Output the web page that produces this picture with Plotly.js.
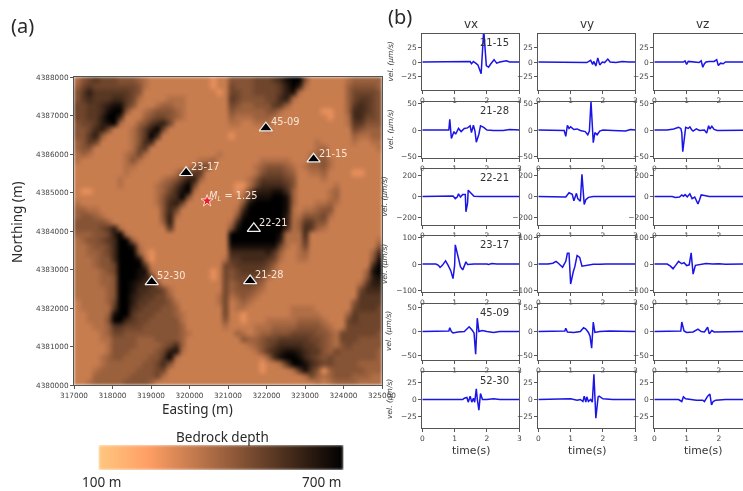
<!DOCTYPE html>
<html><head><meta charset="utf-8">
<script src="https://cdn.plot.ly/plotly-3.0.1.min.js"></script>
<style>html,body{margin:0;padding:0;background:#fff;overflow:hidden}#c{width:743px;height:491px;filter:blur(0.35px)}.heatmaplayer image,.hm image{filter:blur(1.6px)}</style>
</head><body><div id="c"></div>
<script>
// Bedrock depth, 160 m cells, north row first. a = light spot, 0 = plateau, 9 = deepest
const depthRowsNorth = [
"1345444333 2100000000 00a00 3333444568 9930000001 22222",
"2454444444 3100000000 00a00 4333444457 9710000002 33332",
"3575555554 3000000000 000a0 4433444457 8100000002 44443",
"3565556654 1000011100 00000 5433334467 1000000002 45543",
"4455678853 0001221100 00000 4322333552 0000000002 56543",
"4455689930 0123332100 00000 3222223310 00000aa002 66543",
"4455799600 0234432100 00000 2111222100 000000a001 66443",
"3445789100 2356740000 00000 1100111000 0000000001 55333",
"3346740001 3579400000 00000 0000001000 0000000000 43222",
"3357200001 3596000000 00000 a000000000 0000000000 21122",
"2354000001 3660000000 00000 0000000000 0000100000 10011",
"2330000001 4500000000 00000 0000000000 0000120000 00001",
"1210000012 4100000000 00010 0000000000 0001220000 00000",
"1000000013 1000000000 11200 0000011111 0002231000 00000",
"0000000011 0000000002 34000 0000123332 1012231000 00000",
"0000000010 0000001345 50000 0000134443 2001120000 aa000",
"0000000100 0000123577 20000 0001355554 3000010000 00000",
"0000000100 0001235794 00000 0aa1466665 3000000100 00000",
"0aa0000000 0001246891 00000 0a04777886 2000001200 00000",
"0000000000 0001356930 00000 0015888998 2000001200 00000",
"1000000000 0001367400 00000 0038999998 2000112100 00000",
"2211000000 0000364000 00000 0169999998 1011233000 00000",
"2332100000 0000371000 00000 0389999997 1133341000 00000",
"3333320000 0000270000 00000 1699999997 1255330000 00000",
"3333457100 0000050000 00000 3899999996 1265210000 00000"
];
const depthRowsSouth = [
"2223347910 0000000000 00000 9999999981 1160000000 00000",
"1233456992 0000000000 00000 9999999971 1150000000 00001",
"1123346998 1000000000 00000 8888888841 0140000000 00003",
"1122346999 20a0000000 00000 6666667520 0120000000 00026",
"1112336999 81a0000000 00001 5566665410 0110000000 00038",
"1112334999 9500000000 00004 4555554200 0000000000 00069",
"1111234999 8810000000 00a04 3455543100 0000000000 00289",
"1111223999 8750000000 00a04 3444431000 0000000000 00378",
"1111223998 7663000000 00004 2344320000 0000000000 01577",
"1111123998 6655410000 00004 2333210000 0000000000 04666",
"1111123997 6554420000 00014 1232100000 0000000000 05555",
"0111124997 5544431000 00014 0121000000 0000000000 35555",
"0111115996 5444332000 00004 0110000000 1111000000 45554",
"0011128995 4443332100 00004 00a0000000 1111100002 54444",
"0011139965 4433333100 00003 00a0001111 1222210004 54444",
"0001125544 4333333200 00001 0000111222 2333321004 44444",
"0000124433 3333333210 00000 0210122333 4444332144 44443",
"0000113333 2223333200 00000 0032234455 5554432144 43333",
"0000013333 2222346200 00000 0001234566 6655432134 33333",
"0000013332 2223478100 00000 0000135678 8765532433 33332",
"0000123322 2233591000 00000 0000002689 9865434333 33332",
"0000122222 2334630000 00000 00000a0015 9986544333 32222",
"0001222222 3334400000 00000 00000a0000 15853a2333 33222",
"0002222223 3334100000 00000 0000000000 0014212333 22211",
"0012222233 3320000000 00000 0000000000 0000101222 21111"
];
const levelDepth = {a:262,0:324,1:366,2:408,3:450,4:492,5:534,6:576,7:618,8:660,9:702};
const colorbarDepth = [100,200,300,400,500,600,700];
const coppers = [[0,'rgb(255,199,127)'],[0.2,'rgb(255,159,101)'],[1,'rgb(0,0,0)']];

const stations = ['21-15','21-28','22-21','23-17','45-09','52-30'];
const stationE = [323222,321575,321671,319912,321983,319019];
const stationN = [4385870,4382706,4384064,4385517,4386676,4382680];
const eventE = [320457], eventN = [4384782];

// [time s, velocity um/s]
const vx2115=[[0,0],[1.4,0],[1.48,1],[1.52,-3],[1.58,1],[1.65,-2],[1.72,-5],[1.82,-20],[1.9,55],[1.98,-6],[2.05,-9],[2.12,-3],[2.22,4],[2.3,-2],[2.4,0],[2.6,2],[2.7,0],[3,0]];
const vy2115=[[0,0],[1.4,0],[1.5,-1],[1.62,3],[1.68,-4],[1.72,1],[1.78,-7],[1.84,7],[1.9,-5],[1.98,0],[2.05,-1],[2.15,5],[2.22,0],[2.4,-1],[2.6,1],[2.8,0],[3,0]];
const vz2115=[[0,0],[0.9,0],[0.95,2],[1,-4],[1.05,1],[1.2,0],[1.38,-1],[1.45,2],[1.5,-9],[1.55,-3],[1.6,0],[1.7,1],[1.85,1],[1.93,4],[1.98,-6],[2.05,-2],[2.13,-3],[2.2,0],[2.5,0],[3,0]];
const vx2128=[[0,0],[0.75,0],[0.82,0],[0.85,20],[0.88,5],[0.9,-16],[0.98,-3],[1.03,-8],[1.12,3],[1.2,-3],[1.3,3],[1.4,4],[1.48,8],[1.52,-5],[1.58,9],[1.63,-2],[1.67,-23],[1.75,-8],[1.8,8],[1.9,5],[2,0],[2.2,-1],[2.5,-1],[2.7,1],[3,0]];
const vy2128=[[0,0],[0.7,0],[0.8,-1],[0.85,-12],[0.9,9],[0.95,3],[1,6],[1.1,1],[1.2,2],[1.3,-1],[1.45,-3],[1.53,-9],[1.58,-2],[1.63,54],[1.7,-24],[1.75,-5],[1.82,-9],[1.9,-2],[2,0],[2.3,-1],[2.55,-1],[2.7,-2],[2.85,1],[3,0]];
const vz2128=[[0,0],[0.4,0],[0.6,2],[0.75,5],[0.82,3],[0.85,-5],[0.88,-41],[0.92,-15],[0.97,5],[1.05,3],[1.1,6],[1.15,1],[1.2,-2],[1.3,2],[1.4,-1],[1.55,0],[1.62,-6],[1.68,8],[1.72,2],[1.78,7],[1.85,1],[1.95,-1],[2.2,-1],[2.7,0],[3,0]];
const vx2221=[[0,0],[0.75,0],[0.9,0],[0.95,5],[1.02,-20],[1.08,-5],[1.12,25],[1.18,-5],[1.25,20],[1.33,20],[1.35,-145],[1.4,-60],[1.42,60],[1.5,30],[1.6,3],[1.8,0],[3,0]];
const vy2221=[[0,0],[0.55,0],[0.7,-5],[0.85,-5],[0.95,35],[1.05,20],[1.1,-40],[1.18,30],[1.22,-20],[1.3,-45],[1.35,210],[1.42,-75],[1.47,-30],[1.55,-8],[1.7,0],[3,0]];
const vz2221=[[0,0],[0.55,0],[0.65,-10],[0.78,-5],[0.85,15],[0.9,3],[0.95,18],[1.02,-3],[1.1,25],[1.17,-20],[1.25,-5],[1.35,-70],[1.4,-30],[1.45,15],[1.55,10],[1.7,0],[3,0]];
const vx2317=[[0,0],[0.3,0],[0.42,0],[0.5,-5],[0.55,-13],[0.62,-5],[0.72,12],[0.8,-5],[0.88,-25],[0.95,-55],[1,-5],[1.02,72],[1.1,35],[1.18,-10],[1.25,-22],[1.3,-10],[1.35,8],[1.4,-2],[1.6,0],[2,0],[2.05,-2],[2.15,2],[2.3,0],[3,0]];
const vy2317=[[0,0],[0.3,0],[0.45,3],[0.55,10],[0.62,3],[0.75,-12],[0.85,10],[0.9,40],[0.95,40],[1,-75],[1.08,-30],[1.13,-10],[1.2,32],[1.28,25],[1.35,-8],[1.45,-6],[1.7,-1],[1.9,-1],[2.1,0],[3,0]];
const vz2317=[[0,0],[0.4,0],[0.5,-8],[0.58,-18],[0.66,-5],[0.75,10],[0.85,1],[0.92,5],[1,-6],[1.08,-3],[1.14,42],[1.2,-38],[1.27,-5],[1.4,-2],[1.6,2],[1.8,0],[2,1],[2.2,-1],[3,0]];
const vx4509=[[0,0],[0.75,0],[0.82,1],[0.85,8],[0.9,0],[0.95,-3],[1.1,-1],[1.3,0],[1.4,8],[1.45,10],[1.55,2],[1.6,-3],[1.65,-48],[1.7,28],[1.75,0],[1.85,2],[2,0],[2.2,-2],[2.4,0],[3,0]];
const vy4509=[[0,0],[0.75,0],[0.82,1],[0.85,7],[0.9,-1],[1.1,-2],[1.3,0],[1.4,8],[1.47,5],[1.55,-2],[1.6,-10],[1.65,-35],[1.7,20],[1.75,-2],[1.9,0],[2.2,1],[3,0]];
const vz4509=[[0,0],[0.75,0],[0.82,1],[0.85,20],[0.92,1],[1,-2],[1.2,-1],[1.35,5],[1.45,0],[1.55,-1],[1.65,9],[1.7,-5],[1.78,2],[1.85,-1],[2.2,-1],[3,0]];
const vx5230=[[0,0],[0.8,0],[0.9,1],[0.95,0],[1.25,0],[1.3,2],[1.38,3],[1.42,-4],[1.48,5],[1.53,-4],[1.58,2],[1.62,-4],[1.67,16],[1.7,1],[1.75,-16],[1.8,9],[1.86,0],[2,0],[2.2,1],[2.4,0],[3,0]];
const vy5230=[[0,0],[0.8,0],[1,1],[1.2,-1],[1.3,0],[1.38,-3],[1.42,5],[1.47,-4],[1.5,4],[1.55,-3],[1.62,0],[1.67,-4],[1.72,38],[1.78,-28],[1.85,4],[1.88,5],[2,1],[2.3,0],[3,0]];
const vz5230=[[0,0],[0.75,0],[0.85,-3],[0.9,4],[0.97,1],[1.1,0],[1.3,-1],[1.5,-1],[1.55,-3],[1.65,5],[1.72,8],[1.77,-8],[1.82,-3],[1.9,-1],[2.2,0],[3,0]];
const seismograms = [
 [vx2115,vy2115,vz2115],[vx2128,vy2128,vz2128],[vx2221,vy2221,vz2221],
 [vx2317,vy2317,vz2317],[vx4509,vy4509,vz4509],[vx5230,vy5230,vz5230]];
const rowLimits = [48,53,265,105,59,42];
const rowTicks = [[-25,0,25],[-50,0,50],[-200,0,200],[-100,0,100],[-50,0,50],[-25,0,25]];
const components = ['vx','vy','vz'];

const W=743,H=491;
const px=x=>x/W, py=y=>1-y/H;
const colL=[422.3,538.3,654.3], colW=97;
const rowT=[34,102,168.5,236,303.5,371.5], rowH=56;
const mapBox={l:74,r:382,t:77,b:385};
const barBox={l:98.5,r:343.5,t:445,b:470};
const inkM='#3a3a3a', spine='#555555', titleFont='Noto Sans, sans-serif', axisFont='DejaVu Sans, sans-serif';

const z=depthRowsNorth.concat(depthRowsSouth).map(r=>r.replace(/ /g,'').split('').map(c=>levelDepth[c])).reverse();
const traces=[];
traces.push({type:'heatmap',z:z,x0:317080,dx:160,y0:4380080,dy:160,colorscale:coppers,zmin:100,zmax:700,zsmooth:'best',showscale:false,xaxis:'x',yaxis:'y',hoverinfo:'skip'});
traces.push({type:'scatter',mode:'markers',x:stationE,y:stationN,xaxis:'x',yaxis:'y',marker:{symbol:'triangle-up',size:11.5,color:'#000',line:{color:'#f0f0f0',width:1.2}},hoverinfo:'skip'});
traces.push({type:'scatter',mode:'markers',x:eventE,y:eventN,xaxis:'x',yaxis:'y',marker:{symbol:'star',size:9,color:'#e8202a',line:{color:'#ffd8d0',width:1}},hoverinfo:'skip'});
traces.push({type:'heatmap',z:[colorbarDepth],x:colorbarDepth,y:[0],colorscale:coppers,zmin:100,zmax:700,zsmooth:'best',showscale:false,xaxis:'x2',yaxis:'y2',hoverinfo:'skip'});

const layout={width:W,height:H,margin:{l:0,r:0,t:0,b:0},paper_bgcolor:'#fff',plot_bgcolor:'#fff',showlegend:false,
 font:{family:axisFont,color:inkM},annotations:[],shapes:[],
 xaxis:{domain:[px(mapBox.l),px(mapBox.r)],range:[317000,325000],dtick:1000,tickformat:'d',anchor:'y',ticks:'outside',ticklen:3,tickcolor:spine,showline:true,linecolor:spine,mirror:true,showgrid:false,zeroline:false,tickfont:{size:7.3,color:'#444'}},
 yaxis:{domain:[py(mapBox.b),py(mapBox.t)],range:[4380000,4388000],dtick:1000,tickformat:'d',anchor:'x',ticks:'outside',ticklen:3,tickcolor:spine,showline:true,linecolor:spine,mirror:true,showgrid:false,zeroline:false,tickfont:{size:7.3,color:'#444'}},
 xaxis2:{domain:[px(barBox.l),px(barBox.r)],range:[100,700],anchor:'y2',visible:false},
 yaxis2:{domain:[py(barBox.b),py(barBox.t)],range:[-0.5,0.5],anchor:'x2',visible:false}
};

let n=3;
seismograms.forEach((row,r)=>{
 row.forEach((series,c)=>{
  const xn='x'+n, yn='y'+n;
  traces.push({type:'scatter',mode:'lines',x:series.map(p=>p[0]),y:series.map(p=>p[1]),xaxis:xn,yaxis:yn,line:{color:'#1a14e6',width:1.5},hoverinfo:'skip'});
  const right=Math.min(colL[c]+colW,W);
  layout['xaxis'+n]={domain:[px(colL[c]),px(right)],range:[0,(right-colL[c])/colW*3],tickvals:[0,1,2,3],anchor:yn,ticks:'outside',ticklen:3,tickcolor:spine,showline:true,linecolor:spine,mirror:true,showgrid:false,zeroline:false,tickfont:{size:7.5,color:'#444'}};
  layout['yaxis'+n]={domain:[py(rowT[r]+rowH),py(rowT[r])],range:[-rowLimits[r],rowLimits[r]],tickvals:rowTicks[r],anchor:xn,ticks:'outside',ticklen:3,tickcolor:spine,showline:true,linecolor:spine,mirror:c<2,showgrid:false,zeroline:false,tickfont:{size:7.5,color:'#444'}};
  n++;
 });
});

// tick labels of the row above run behind the top of the next panel
for(let r=1;r<6;r++)for(let c=0;c<3;c++)for(let t=0;t<=3;t++){
 const cx=colL[c]+t*colW/3;
 if(cx>W)continue;
 layout.shapes.push({type:'rect',xref:'paper',yref:'paper',layer:'above',line:{width:0},fillcolor:'#fff',
  x0:px(Math.max(cx-5,colL[c]+1)),x1:px(Math.min(cx+5,colL[c]+colW-1)),y0:py(rowT[r]+6),y1:py(rowT[r]+1)});
}

const note=(text,x,y,size,opts={})=>layout.annotations.push(Object.assign({text,x:px(x),y:py(y),xref:'paper',yref:'paper',showarrow:false,xanchor:'center',yanchor:'middle',font:{size,color:'#2a2a2a',family:titleFont}},opts));
note('(a)',22,26,20);
note('(b)',400,17,20);
note('Easting (m)',197,409,13.5);
note('Northing (m)',17,222,13.5,{textangle:-90});
note('Bedrock depth',222,437,13.5);
note('100 m',101,482,13.5);
note('700 m',321,482,13.5);
components.forEach((s,c)=>{
 note(s,colL[c]+48.5,24.5,12,{font:{size:12,color:'#333',family:axisFont}});
 note('time(s)',colL[c]+48.5,450,10.8,{font:{size:10.8,color:'#333',family:axisFont}});
});
const velX=[389.5,389.5,384,384,388.5,389.5];
rowT.forEach((t,r)=>{
 note('<i>vel. (μm/s)</i>',velX[r],t+rowH/2,7.5,{textangle:-90,font:{size:7.5,color:'#444',family:axisFont}});
 note(stations[r],495,t+8.5,10,{font:{size:10,color:'#333',family:axisFont}});
});
stations.forEach((s,i)=>layout.annotations.push({text:s,x:stationE[i],y:stationN[i],xref:'x',yref:'y',showarrow:false,xanchor:'left',yanchor:'middle',xshift:3,yshift:6,font:{size:9.8,color:'#f7e6d8',family:axisFont}}));
layout.annotations.push({text:'<i>M<sub>L</sub></i> = 1.25',x:eventE[0],y:eventN[0],xref:'x',yref:'y',showarrow:false,xanchor:'left',yanchor:'middle',xshift:0,yshift:4,font:{size:9.8,color:'#f7e6d8',family:axisFont}});

Plotly.newPlot('c',traces,layout,{displayModeBar:false,staticPlot:true});
</script></body></html>
